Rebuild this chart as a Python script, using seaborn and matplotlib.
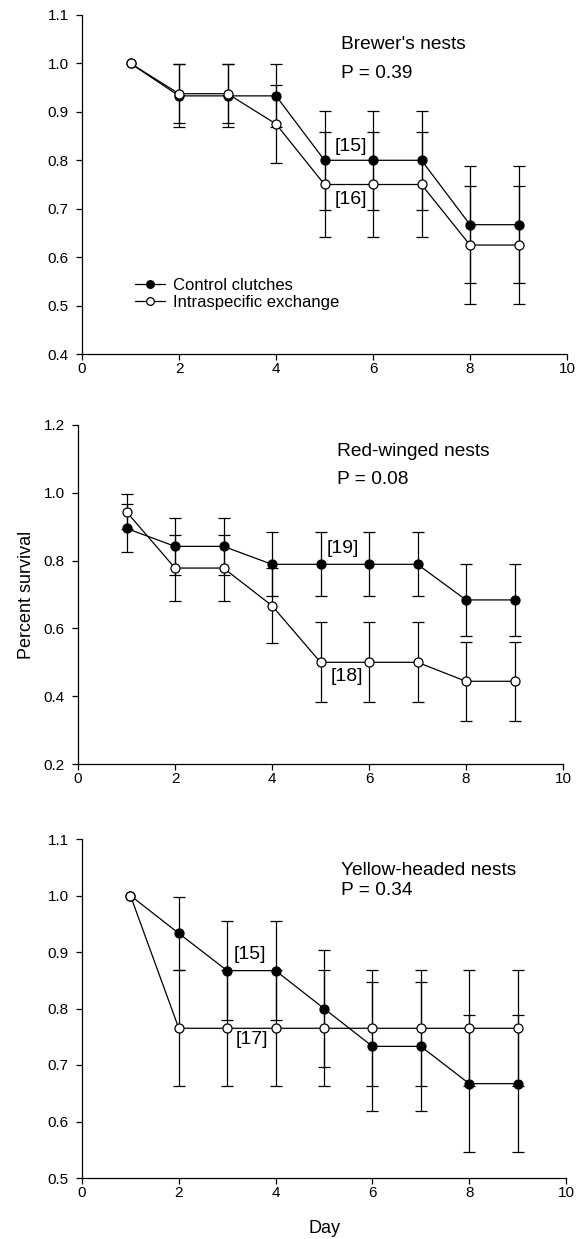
import numpy as np
import pandas as pd
import matplotlib
matplotlib.use("Agg")
import matplotlib.pyplot as plt
import seaborn as sns

sns.set_style("ticks")
plt.rcParams['font.family'] = ['Liberation Sans', 'DejaVu Sans']
plt.rcParams['text.color'] = 'black'
plt.rcParams['axes.labelcolor'] = 'black'

days = [1, 2, 3, 4, 5, 6, 7, 8, 9]

# Brewer's nests
brew_ctrl = [1.0, 0.933, 0.933, 0.933, 0.800, 0.800, 0.800, 0.667, 0.667]
brew_ctrl_err = [0, 0.065, 0.065, 0.065, 0.102, 0.102, 0.102, 0.121, 0.121]
brew_exch = [1.0, 0.9375, 0.9375, 0.875, 0.750, 0.750, 0.750, 0.625, 0.625]
brew_exch_err = [0, 0.061, 0.061, 0.081, 0.108, 0.108, 0.108, 0.121, 0.121]

# Red-winged nests
red_ctrl = [0.895, 0.842, 0.842, 0.789, 0.789, 0.789, 0.789, 0.684, 0.684]
red_ctrl_err = [0.071, 0.084, 0.084, 0.094, 0.094, 0.094, 0.094, 0.106, 0.106]
red_exch = [0.944, 0.778, 0.778, 0.667, 0.500, 0.500, 0.500, 0.444, 0.444]
red_exch_err = [0.052, 0.097, 0.097, 0.111, 0.118, 0.118, 0.118, 0.117, 0.117]

# Yellow-headed nests
yel_ctrl = [1.0, 0.933, 0.867, 0.867, 0.800, 0.733, 0.733, 0.667, 0.667]
yel_ctrl_err = [0, 0.064, 0.088, 0.088, 0.103, 0.114, 0.114, 0.121, 0.121]
yel_exch = [1.0, 0.765, 0.765, 0.765, 0.765, 0.765, 0.765, 0.765, 0.765]
yel_exch_err = [0, 0.103, 0.103, 0.103, 0.103, 0.103, 0.103, 0.103, 0.103]

titles = ["Brewer's nests", "Red-winged nests", "Yellow-headed nests"]
pvals = ["P = 0.39", "P = 0.08", "P = 0.34"]
series_labels = ["Control clutches", "Intraspecific exchange"]

panels = [
    dict(ctrl=brew_ctrl, ce=brew_ctrl_err, exch=brew_exch, ee=brew_exch_err,
         ylim=(0.4, 1.1), yticks=np.arange(0.4, 1.11, 0.1), pos=[82, 15, 567, 354],
         ann=[("[15]", 5.55, 0.828), ("[16]", 5.55, 0.718)], title_y=(1.04, 0.98)),
    dict(ctrl=red_ctrl, ce=red_ctrl_err, exch=red_exch, ee=red_exch_err,
         ylim=(0.2, 1.2), yticks=np.arange(0.2, 1.21, 0.2), pos=[78, 425, 563, 764],
         ann=[("[19]", 5.45, 0.836), ("[18]", 5.55, 0.458)], title_y=(1.122, 1.04)),
    dict(ctrl=yel_ctrl, ce=yel_ctrl_err, exch=yel_exch, ee=yel_exch_err,
         ylim=(0.5, 1.1), yticks=np.arange(0.5, 1.11, 0.1), pos=[82, 839, 566, 1178],
         ann=[("[15]", 3.47, 0.895), ("[17]", 3.5, 0.746)], title_y=(1.045, 1.008)),
]

W, H = 578, 1239
fig = plt.figure(figsize=(W / 100, H / 100), dpi=100)

lw = 0.9
for i, p in enumerate(panels):
    l, t, r, b = p["pos"]
    ax = fig.add_axes([l / W, 1 - b / H, (r - l) / W, (b - t) / H])
    for vals, errs, face, lab in [(p["ctrl"], p["ce"], "black", series_labels[0]),
                                  (p["exch"], p["ee"], "white", series_labels[1])]:
        d = [x for x, e in zip(days, errs) if e > 0]
        v = [y for y, e in zip(vals, errs) if e > 0]
        ee = [e for e in errs if e > 0]
        ax.errorbar(d, v, yerr=ee, fmt='none', ecolor='black', elinewidth=lw,
                    capsize=4.5, capthick=lw, zorder=2)
        df = pd.DataFrame({"Day": days, "val": vals})
        sns.lineplot(data=df, x="Day", y="val", ax=ax, color="black", lw=lw,
                     marker="o", markersize=6.5, markerfacecolor=face,
                     markeredgecolor="black", markeredgewidth=0.9,
                     label=lab if i == 0 else None, zorder=3)
    ax.set_xlim(0, 10)
    ax.set_ylim(*p["ylim"])
    ax.set_xticks([0, 2, 4, 6, 8, 10])
    ax.set_yticks(p["yticks"])
    ax.set_yticklabels([f"{v:.1f}" for v in p["yticks"]])
    ax.tick_params(labelsize=11, width=0.9, length=4.5, color="black", labelcolor="black")
    ax.tick_params(axis="x", pad=1.5)
    ax.tick_params(axis="y", pad=5)
    for s in ["left", "bottom"]:
        ax.spines[s].set_linewidth(0.9)
        ax.spines[s].set_color("black")
    sns.despine(ax=ax)
    ax.set_xlabel("")
    ax.set_ylabel("")
    ax.text(5.35, p["title_y"][0], titles[i], fontsize=13.8, va="center", ha="left")
    ax.text(5.35, p["title_y"][1], pvals[i], fontsize=13.8, va="center", ha="left")
    for txt, x, y in p["ann"]:
        ax.text(x, y, txt, fontsize=14, ha="center", va="center")
    if i == 0:
        ax.legend(loc="center left", bbox_to_anchor=(0.109, 0.177), frameon=False,
                  fontsize=12, handlelength=1.8, handletextpad=0.5,
                  labelspacing=0.15, borderpad=0, borderaxespad=0, markerscale=0.85)
    else:
        if ax.get_legend():
            ax.get_legend().remove()
    if i == 1:
        ax.set_ylabel("Percent survival", fontsize=13, labelpad=6)
    if i == 2:
        ax.set_xlabel("Day", fontsize=13, labelpad=14)

fig.savefig("out.png", dpi=100)
